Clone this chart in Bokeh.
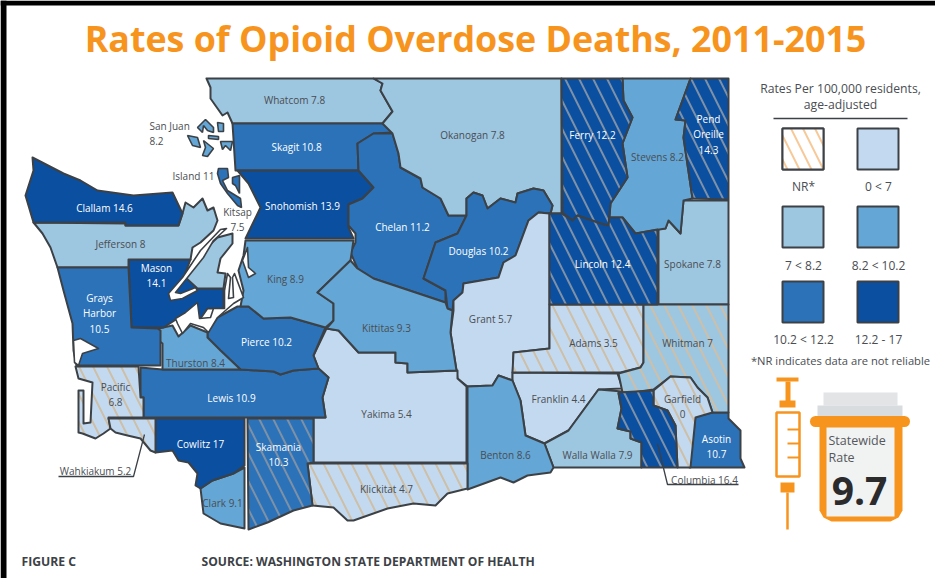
from bokeh.plotting import figure
from bokeh.models import Range1d
from bokeh.core.properties import value
from bokeh.embed import file_html
from bokeh.resources import INLINE

# ---- county outlines (page pixels) ----
WHATCOM = [(206,78),(373,78),(382,83),(380,90),(392,111),(382,123),(232,123),(227,112),(222,115),(210,98),(210,87)]
SKAGIT = [(232,123),(382,123),(392,132),(373,133),(357,143),(358,170),(235,170)]
SNOHOMISH = [(237,170),(358,170),(373,187),(362,198),(348,204),(348,227),(353,238),(245,238),(260,207),(248,183)]
CHELAN = [(392,133),(373,133),(357,143),(358,170),(373,187),(362,198),(348,204),(348,225),(355,233),(355,242),(350,252),(357,268),(373,278),(445,302),(445,290),(423,278),(435,242),(457,233),(466,215),(448,215),(440,198),(422,187),(420,178),(400,167),(398,153)]
OKANOGAN = [(373,78),(561,78),(561,213),(550,213),(552,205),(543,190),(533,188),(517,193),(515,202),(500,198),(487,208),(482,195),(473,192),(466,198),(466,215),(448,215),(440,198),(422,187),(420,178),(400,167),(398,153),(392,133),(382,123),(392,111),(380,90),(382,83)]
DOUGLAS = [(466,198),(473,192),(482,195),(487,208),(500,198),(515,202),(517,193),(533,188),(543,190),(552,205),(550,213),(538,212),(528,220),(515,255),(503,262),(498,277),(463,283),(462,292),(453,300),(452,310),(447,308),(445,290),(423,278),(435,242),(457,233),(466,215)]
GRANT = [(538,212),(549,213),(549,348),(513,352),(512,380),(498,375),(492,385),(467,386),(457,378),(456,370),(450,332),(453,310),(453,300),(462,292),(463,283),(498,277),(503,262),(515,255),(528,220)]
FERRY = [(561,78),(622,78),(623,100),(632,117),(622,143),(627,177),(610,203),(608,225),(600,223),(577,215),(572,220),(562,212)]
STEVENS = [(622,78),(690,78),(675,119),(685,120),(683,137),(692,198),(683,200),(680,233),(668,220),(665,228),(635,233),(622,217),(609,217),(610,203),(627,177),(622,143),(632,117),(623,100)]
PEND_OREILLE = [(690,78),(728,78),(728,199),(692,198),(683,137),(685,120),(675,119)]
SPOKANE = [(683,200),(728,200),(728,304),(658,304),(658,228),(665,228),(668,220),(680,233)]
LINCOLN = [(549,213),(561,213),(572,220),(577,215),(600,223),(608,225),(609,217),(622,217),(635,233),(657,229),(657,304),(549,304)]
ADAMS = [(549,304),(643,304),(643,362),(640,367),(620,372),(512,372),(513,352),(549,348)]
WHITMAN = [(643,304),(728,304),(728,412),(712,412),(707,397),(697,387),(690,377),(670,376),(653,389),(632,392),(622,392),(618,373),(640,367),(643,362)]
GARFIELD = [(653,405),(653,390),(670,376),(690,377),(697,387),(707,397),(712,412),(695,417),(690,467),(677,467),(675,425),(667,410)]
ASOTIN = [(695,416),(712,412),(728,412),(728,418),(740,430),(740,458),(744,467),(689,467)]
COLUMBIA = [(618,392),(653,390),(653,405),(667,410),(675,425),(677,467),(641,467),(641,442),(630,438),(630,431),(617,428),(621,408)]
WALLA_WALLA = [(598,389),(622,391),(618,393),(621,408),(617,428),(630,431),(630,438),(641,442),(641,467),(553,467),(544,443),(568,430)]
FRANKLIN = [(512,372),(617,373),(622,388),(598,389),(568,430),(544,443),(525,435),(520,400),(512,380)]
BENTON = [(467,386),(492,385),(498,375),(512,380),(520,400),(525,435),(544,443),(553,467),(550,472),(527,475),(513,482),(500,477),(467,489)]
YAKIMA = [(326,328),(338,330),(358,352),(395,352),(395,362),(407,363),(407,372),(457,370),(457,378),(466,386),(466,462),(313,462),(313,417),(325,417),(322,397),(328,377),(318,368),(313,355)]
KLICKITAT = [(307,463),(467,463),(467,488),(447,493),(435,505),(413,503),(387,508),(353,520),(347,520),(333,507),(312,505)]
SKAMANIA = [(247,418),(313,418),(313,462),(307,463),(312,505),(293,510),(267,522),(248,529)]
CLARK = [(244,467),(244,528),(220,523),(203,513),(200,488),(212,480),(233,473)]
COWLITZ = [(155,418),(244,418),(244,465),(233,473),(212,480),(200,488),(195,485),(197,473),(188,462),(178,460),(172,450),(155,452)]
LEWIS = [(140,367),(162,369),(240,369),(273,371),(280,374),(293,370),(318,368),(328,377),(322,397),(325,417),(143,417),(143,397),(140,397)]
PIERCE = [(207,332),(217,317),(237,306),(248,306),(263,318),(290,317),(325,327),(313,355),(318,368),(293,370),(280,374),(273,371),(240,369),(220,350),(207,337)]
THURSTON = [(158,328),(172,325),(178,336),(190,325),(207,332),(207,337),(220,350),(240,369),(162,369),(162,343),(158,340)]
MASON = [(128,259),(190,259),(185,272),(197,288),(223,288),(223,308),(207,308),(200,318),(177,318),(163,327),(131,327)]
KITSAP = [(185,272),(200,253),(217,237),(232,233),(232,243),(220,258),(217,272),(225,273),(223,288),(197,288),(185,277)]
JEFFERSON = [(33,222),(125,223),(125,225),(178,225),(182,213),(185,202),(193,207),(202,198),(207,210),(213,207),(217,220),(213,230),(200,242),(192,247),(190,259),(128,259),(128,267),(57,267),(50,247),(42,233)]
CLALLAM = [(32,157),(63,173),(80,180),(97,190),(133,195),(172,192),(182,213),(178,225),(125,225),(125,222),(33,222),(25,195),(33,170)]
GRAYS_HARBOR = [(57,267),(128,267),(131,327),(157,328),(160,330),(160,365),(76,365),(73,350),(72,323),(63,290)]
PACIFIC = [(75,366),(138,366),(140,397),(143,397),(143,417),(108,417),(110,428),(103,433),(95,438),(82,433),(78,432),(78,390),(83,390),(83,423),(90,422),(92,382),(78,378)]
WAHKIAKUM = [(108,418),(155,418),(155,452),(150,450),(140,438),(127,435),(115,432),(110,428)]
KING = [(245,240),(353,240),(350,260),(317,292),(333,303),(333,320),(325,327),(290,317),(263,318),(248,306),(240,306),(243,290),(238,270),(243,255)]
KITTITAS = [(350,260),(357,268),(373,278),(445,302),(447,308),(452,310),(450,332),(456,370),(407,372),(407,363),(395,362),(395,352),(358,352),(338,330),(326,328),(333,320),(333,303),(317,292)]
ISLAND_WHIDBEY = [(218,168),(227,168),(228,177),(222,180),(227,190),(240,198),(241,207),(237,205),(227,193),(220,183),(217,173)]
ISLAND_CAMANO = [(232,177),(239,175),(239,193),(235,185),(232,183)]
SJ_ORCAS = [(197,127),(205,119),(213,127),(213,132),(207,130),(203,125),(202,132)]
SJ_SMALL = [(217,122),(223,123),(223,131),(218,131)]
SJ_SANJUAN = [(187,135),(197,137),(200,147),(192,145)]
SJ_LOPEZ = [(203,140),(213,148),(207,156),(202,155),(205,147)]
SJ_SHAW = [(208,135),(218,136),(218,139),(208,138)]
SJ_CYPRESS = [(220,141),(232,141),(230,150),(225,145),(222,149)]
# ---- water cut-outs ----
HOOD_CANAL = [(220,229),(200,250),(182,277),(168,293),(170,300),(182,298),(197,290),(195,287),(180,293),(175,292),(187,277),(203,257),(213,240),(226,228)]
SOUTH_SOUND = [(224,290),(227,273),(230,277),(228,298),(233,297),(232,277),(234,273),(243,297),(233,303),(217,317),(208,332),(203,327),(190,323),(182,333),(177,323),(175,318),(185,312),(197,302),(199,318),(210,317),(213,308),(224,308)]
LAKE = [(247,247),(248,267),(255,273),(248,277),(242,260)]
GRAYS_BAY = [(73,340),(80,338),(98,348),(82,353),(78,365),(74,362)]

# ---- the values ----
COUNTIES = ["Whatcom","Skagit","Snohomish","Chelan","Okanogan","Douglas","Grant","Spokane","Stevens","Adams","Whitman","Franklin","Walla Walla","Benton","Yakima","Klickitat","Clark","Cowlitz","Lewis","Pierce","Thurston","Mason","Kitsap","Jefferson","Clallam","Grays Harbor","King","Kittitas","Pacific","Wahkiakum","Ferry","Pend Oreille","Lincoln","Garfield","Columbia","Skamania","Asotin"]
RATES = [7.8,10.8,13.9,11.2,7.8,10.2,5.7,7.8,8.2,3.5,7,4.4,7.9,8.6,5.4,4.7,9.1,17,10.9,10.2,8.4,14.1,7.5,8,14.6,10.5,8.9,9.3,6.8,5.2,12.2,14.3,12.4,0,16.4,10.3,10.7]
SHAPES = [WHATCOM,SKAGIT,SNOHOMISH,CHELAN,OKANOGAN,DOUGLAS,GRANT,SPOKANE,STEVENS,ADAMS,WHITMAN,FRANKLIN,WALLA_WALLA,BENTON,YAKIMA,KLICKITAT,CLARK,COWLITZ,LEWIS,PIERCE,THURSTON,MASON,KITSAP,JEFFERSON,CLALLAM,GRAYS_HARBOR,KING,KITTITAS,PACIFIC,WAHKIAKUM,FERRY,PEND_OREILLE,LINCOLN,GARFIELD,COLUMBIA,SKAMANIA,ASOTIN]
NOT_RELIABLE = ["Adams","Whitman","Klickitat","Pacific","Wahkiakum","Ferry","Pend Oreille","Lincoln","Garfield","Columbia","Skamania"]
BIN_COLORS = ["#c3d9ef","#9dc6e0","#64a6d5","#2b72b9","#0b4fa1"]
BIN_LIMITS = [7,8.2,10.2,12.2]
LEGEND_LABELS = ["NR*","0 < 7","7 < 8.2","8.2 < 10.2","10.2 < 12.2","12.2 - 17"]
STATEWIDE_RATE = "9.7"

LINE = "#3c4146"
FONT = value("Open Sans")
ORANGE = "#f7941e"
TEXT = "#4a4d52"

def color_of(r):
    for lim, c in zip(BIN_LIMITS, BIN_COLORS):
        if r < lim:
            return c
    return BIN_COLORS[-1]

p = figure(width=935, height=578, x_range=Range1d(0, 935), y_range=Range1d(578, 0),
           output_backend="svg", toolbar_location=None, x_axis_type=None, y_axis_type=None,
           min_border=0, outline_line_color=None, background_fill_color="white", border_fill_color="white")
p.grid.visible = False

# black frame edges of the scanned page
p.quad(left=[0,0],right=[6,935],top=[0,0],bottom=[578,5],fill_color="black",line_color=None)

def cols(shapes):
    return [[a for a, _ in s] for s in shapes], [[b for _, b in s] for s in shapes]

HATCH = dict(hatch_pattern="left_diagonal_line", hatch_weight=2, hatch_scale=28)

plain = [(s, r) for n, s, r in zip(COUNTIES, SHAPES, RATES) if n not in NOT_RELIABLE]
xs, ys = cols([s for s, _ in plain])
p.patches(xs, ys, fill_color=[color_of(r) for _, r in plain], line_color=LINE, line_width=2, line_join="round")

nr = [(s, r) for n, s, r in zip(COUNTIES, SHAPES, RATES) if n in NOT_RELIABLE]
light = [(s, r) for s, r in nr if r < 8.2]
dark = [(s, r) for s, r in nr if r >= 8.2]
xs, ys = cols([s for s, _ in light])
p.patches(xs, ys, fill_color=[color_of(r) for _, r in light], line_color=LINE, line_width=2, line_join="round",
          hatch_color="#cdbfa8", **HATCH)
xs, ys = cols([s for s, _ in dark])
p.patches(xs, ys, fill_color=[color_of(r) for _, r in dark], line_color=LINE, line_width=2, line_join="round",
          hatch_color="#7d90a6", **HATCH)

xs, ys = cols([HOOD_CANAL, SOUTH_SOUND, LAKE, GRAYS_BAY])
p.patches(xs, ys, fill_color="white", line_color=LINE, line_width=1.6, line_join="round")

xs, ys = cols([ISLAND_WHIDBEY, ISLAND_CAMANO])
p.patches(xs, ys, fill_color=color_of(11), line_color=LINE, line_width=1.6)
xs, ys = cols([SJ_ORCAS, SJ_SMALL, SJ_SANJUAN, SJ_LOPEZ, SJ_SHAW, SJ_CYPRESS])
p.patches(xs, ys, fill_color=color_of(8.2), line_color=LINE, line_width=1.6)

p.line([58,133,144],[476,476,434], line_color=LINE, line_width=1.3)
p.line([657,667,738],[443,484,484], line_color=LINE, line_width=1.3)

def txt(x, y, s, size=10, color=TEXT, align="center", style="normal", lh=1.1):
    p.text([x],[y],text=[s],text_font=FONT,text_font_size=f"{size}px",text_color=color,
           text_align=align,text_baseline="middle",text_font_style=style,text_line_height=lh)

LABEL_POS = {
 "Whatcom":(294,99),"Skagit":(296,146),"Snohomish":(302,205),"Chelan":(402,226),"Okanogan":(472,134),
 "Douglas":(478,250),"Grant":(490,318),"Spokane":(692,263),"Stevens":(657,156),"Adams":(593,342),
 "Whitman":(687,342),"Franklin":(558,398),"Walla Walla":(597,454),"Benton":(505,454),"Yakima":(386,413),
 "Klickitat":(386,488),"Clark":(222,502),"Cowlitz":(200,443),"Lewis":(231,397),"Pierce":(266,341),
 "Thurston":(195,362),"Jefferson":(120,243),"Clallam":(104,207),"King":(285,278),"Kittitas":(386,327),
 "Ferry":(592,134),"Lincoln":(602,263),"Wahkiakum":(95,470),"Columbia":(704,479),
}
STACKED = {"Mason":(156,275,"Mason\n14.1"),"Grays Harbor":(99,313,"Grays\nHarbor\n10.5"),"Pacific":(115,394,"Pacific\n6.8"),
           "Skamania":(278,454,"Skamania\n10.3"),"Pend Oreille":(708,134,"Pend\nOreille\n14.3"),
           "Garfield":(682,406,"Garfield\n0"),"Asotin":(716,446,"Asotin\n10.7"),"Kitsap":(237,219,"Kitsap\n7.5")}
OUTSIDE = {"Wahkiakum","Columbia","Kitsap"}
for n, r in zip(COUNTIES, RATES):
    col = "white" if r >= 10.2 and n not in OUTSIDE else TEXT
    if n in STACKED:
        x, y, s = STACKED[n]
        txt(x, y, s, 10, col)
    else:
        x, y = LABEL_POS[n]
        txt(x, y, f"{n} {r:g}", 10, col)
txt(149, 133, "San Juan\n8.2", 10, TEXT, "left")
txt(172, 175, "Island 11", 10, TEXT, "left")

txt(475, 37, "Rates of Opioid Overdose Deaths, 2011-2015", 35.8, ORANGE, style="bold")
txt(21, 561, "FIGURE C", 12.2, "#3c4146", "left", "bold")
txt(201, 561, "SOURCE: WASHINGTON STATE DEPARTMENT OF HEALTH", 12.1, "#3c4146", "left", "bold")

txt(840, 88, "Rates Per 100,000 residents,", 12.2)
txt(840, 104, "age-adjusted", 12.2)
p.line([773,907],[118,118], line_color=LINE, line_width=1.5)
SW_L = [782,857,782,857,782,857]
SW_T = [128,128,206,206,281,281]
SW_C = ["white"] + BIN_COLORS
p.quad(left=SW_L, right=[a+41 for a in SW_L], top=SW_T, bottom=[b+41 for b in SW_T],
       fill_color=SW_C, line_color=LINE, line_width=2)
p.quad(left=[782], right=[823], top=[128], bottom=[169], fill_color="white", line_color=LINE, line_width=2,
       hatch_pattern="left_diagonal_line", hatch_color="#f8c998", hatch_weight=2, hatch_scale=24)
LG_X = [803,878,803,878,803,878]
LG_Y = [186,186,265,265,339,339]
for x, y, s in zip(LG_X, LG_Y, LEGEND_LABELS):
    txt(x, y, s, 12)
txt(840, 360, "*NR indicates data are not reliable", 11.2)

p.line([776,798],[379,379], line_color=ORANGE, line_width=4)
p.line([787.5,787.5],[381,401], line_color=ORANGE, line_width=5)
p.quad(left=[779],right=[795],top=[400],bottom=[407],fill_color=ORANGE,line_color=None)
p.quad(left=[776],right=[799],top=[412],bottom=[476],fill_color="white",line_color=ORANGE,line_width=2.5)
for yy in [429,443,457]:
    p.line([787,799],[yy,yy],line_color=ORANGE,line_width=2)
p.quad(left=[780],right=[794],top=[482],bottom=[492],fill_color=ORANGE,line_color=None)
p.line([787,787],[492,529],line_color=ORANGE,line_width=2.5)

p.quad(left=[823,817],right=[897,902],top=[392,405],bottom=[405,416],fill_color=["#e2e4e6","#d9dcdf"],line_color=None)
p.patch([819,902,902,898,890,831,823,819],[425,425,510,517,521,521,517,510],fill_color=ORANGE,line_color=None)
p.quad(left=[826],right=[894],top=[427],bottom=[516],fill_color="#f1f2f2",line_color=None)
p.line([815,904],[421,421],line_color=ORANGE,line_width=11,line_cap="round")
txt(828, 448, "Statewide\nRate", 12.5, "#55585c", "left", lh=1.0)
txt(859, 490, STATEWIDE_RATE, 39, "#2b2b2d", "center", "bold")

open("out.html", "w").write(file_html(p, INLINE))
